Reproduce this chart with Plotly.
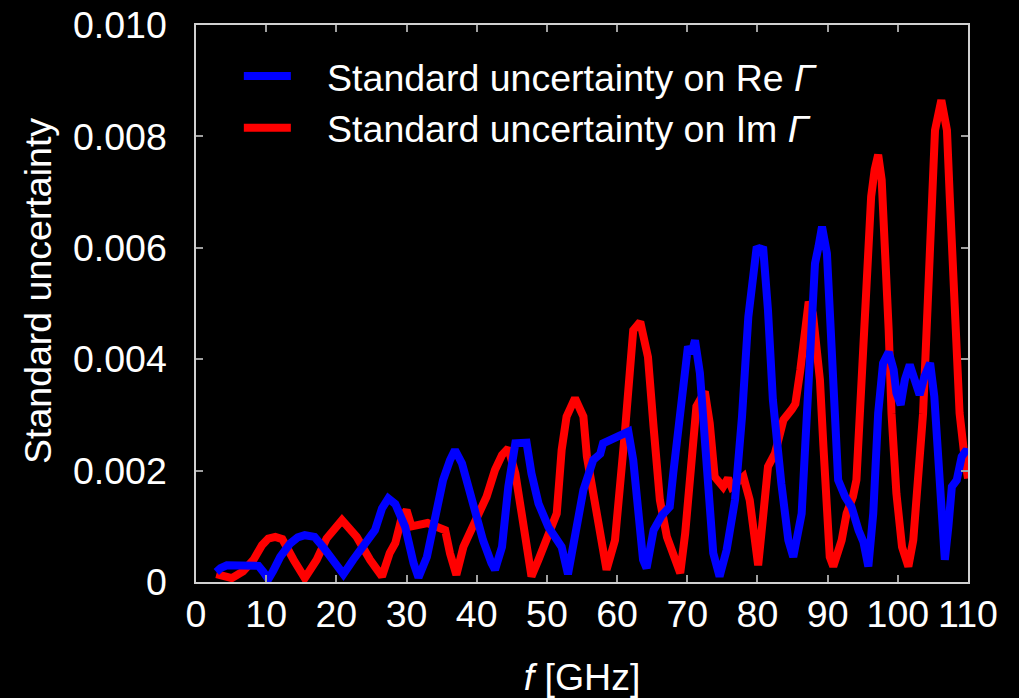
import plotly.graph_objects as go

# Frequency (GHz) and standard uncertainty on Re Γ (blue)
f_re = [2.9, 3.5, 4.4, 5.5, 6.5, 7.5, 8.9, 9.6, 10.3, 11.0, 12.0, 13.4, 14.5, 15.5, 16.9,
        18.1, 19.6, 21.0, 22.4, 23.8, 25.5, 26.5, 27.4, 28.4, 29.8, 31.0, 31.7, 32.9, 34.1,
        35.2, 36.2, 36.9, 37.9, 38.8, 39.8, 40.9, 42.1, 42.6, 43.6, 44.5, 45.5, 46.3, 47.1,
        47.8, 48.8, 50.2, 52.1, 53.0, 54.0, 55.2, 56.6, 57.6, 58.0, 59.0, 60.4, 61.6, 62.3,
        63.3, 63.7, 64.2, 65.2, 66.4, 67.5, 68.0, 69.0, 69.7, 70.1, 70.6, 71.1, 71.8, 72.5,
        73.0, 73.7, 74.6, 75.6, 76.8, 77.8, 78.7, 79.4, 79.9, 80.4, 80.8, 81.5, 82.2, 83.4,
        84.4, 85.1, 85.7, 86.3, 86.8, 87.5, 88.2, 88.7, 89.2, 89.9, 90.3, 90.8, 91.5, 92.5,
        93.4, 94.4, 95.1, 95.8, 96.5, 97.2, 97.9, 98.7, 99.4, 99.8, 100.4, 101.0, 101.7,
        102.4, 103.1, 103.8, 104.6, 105.2, 105.7, 106.2, 106.7, 107.2, 107.7, 108.4, 109.1,
        109.8, 110.0]
u_re = [0.00018, 0.00025, 0.00030, 0.00030, 0.00031, 0.00029, 0.00029, 0.00018, 0.00005,
        0.00020, 0.00045, 0.00069, 0.00080, 0.00084, 0.00081, 0.00063, 0.00040, 0.00014,
        0.00040, 0.00063, 0.00093, 0.00132, 0.00150, 0.00140, 0.00099, 0.00034, 0.00008,
        0.00045, 0.00111, 0.00183, 0.00219, 0.00237, 0.00213, 0.00171, 0.00123, 0.00075,
        0.00034, 0.00022, 0.00063, 0.00171, 0.00249, 0.00251, 0.00250, 0.00195, 0.00141,
        0.00099, 0.00063, 0.00014, 0.00087, 0.00165, 0.00219, 0.00230, 0.00249, 0.00255,
        0.00260, 0.00270, 0.00219, 0.00099, 0.00040, 0.00025, 0.00093, 0.00120, 0.00135,
        0.00195, 0.00297, 0.00375, 0.00423, 0.00410, 0.00434, 0.00375, 0.00267, 0.00147,
        0.00052, 0.00010, 0.00057, 0.00147, 0.00297, 0.00476, 0.00566, 0.00602, 0.00595,
        0.00602, 0.00488, 0.00327, 0.00177, 0.00075, 0.00045, 0.00080, 0.00123, 0.00243,
        0.00423, 0.00572, 0.00602, 0.00638, 0.00590, 0.00482, 0.00333, 0.00183, 0.00153,
        0.00135, 0.00093, 0.00072, 0.00028, 0.00123, 0.00303, 0.00393, 0.00413, 0.00381,
        0.00339, 0.00318, 0.00363, 0.00390, 0.00363, 0.00336, 0.00369, 0.00393, 0.00333,
        0.00243, 0.00123, 0.00040, 0.00099, 0.00171, 0.00183, 0.00225, 0.00237, 0.00230]

# Frequency (GHz) and standard uncertainty on Im Γ (red)
f_im = [2.9, 4.0, 5.1, 6.7, 8.2, 9.4, 10.3, 11.3, 12.3, 13.9, 15.5, 17.2, 18.6, 20.8, 22.9,
        24.8, 26.5, 27.6, 28.4, 29.3, 30.0, 30.7, 32.0, 33.0, 34.1, 35.5, 36.2, 37.1, 38.1,
        39.3, 40.5, 41.4, 42.6, 43.6, 44.5, 45.5, 46.4, 47.1, 47.8, 48.8, 50.2, 51.4, 52.1,
        52.8, 54.0, 55.2, 55.7, 56.9, 57.6, 58.5, 59.7, 60.4, 61.1, 61.8, 62.3, 63.3, 64.4,
        65.2, 66.1, 67.1, 68.2, 69.0, 69.7, 70.6, 71.3, 72.5, 73.2, 73.9, 75.1, 75.8, 76.3,
        77.2, 78.0, 78.9, 79.6, 80.1, 80.8, 81.5, 82.5, 83.7, 84.9, 85.4, 86.1, 86.6, 87.3,
        87.9, 88.4, 88.9, 89.4, 89.9, 90.3, 90.8, 92.0, 92.7, 93.6, 94.1, 94.8, 95.5, 96.2,
        96.7, 97.2, 97.7, 98.2, 98.7, 99.1, 99.8, 100.6, 101.5, 102.2, 102.9, 103.6, 104.3,
        104.8, 105.3, 106.2, 107.0, 107.4, 108.1, 108.8, 109.5, 110.0]
u_im = [0.00014, 0.00010, 0.00007, 0.00019, 0.00040, 0.00066, 0.00078, 0.00081, 0.00077,
        0.00040, 0.00007, 0.00040, 0.00078, 0.00111, 0.00081, 0.00040, 0.00010, 0.00052,
        0.00070, 0.00115, 0.00129, 0.00100, 0.00103, 0.00106, 0.00100, 0.00093, 0.00051,
        0.00013, 0.00063, 0.00099, 0.00135, 0.00153, 0.00201, 0.00228, 0.00240, 0.00195,
        0.00123, 0.00063, 0.00010, 0.00040, 0.00081, 0.00123, 0.00237, 0.00297, 0.00330,
        0.00297, 0.00225, 0.00141, 0.00087, 0.00022, 0.00075, 0.00159, 0.00267, 0.00375,
        0.00452, 0.00467, 0.00404, 0.00278, 0.00147, 0.00081, 0.00040, 0.00016, 0.00087,
        0.00207, 0.00315, 0.00342, 0.00285, 0.00189, 0.00171, 0.00186, 0.00171, 0.00180,
        0.00189, 0.00147, 0.00069, 0.00030, 0.00117, 0.00207, 0.00231, 0.00291, 0.00310,
        0.00320, 0.00380, 0.00434, 0.00503, 0.00482, 0.00423, 0.00363, 0.00243, 0.00123,
        0.00045, 0.00028, 0.00075, 0.00123, 0.00153, 0.00183, 0.00363, 0.00542, 0.00692,
        0.00740, 0.00767, 0.00722, 0.00602, 0.00452, 0.00303, 0.00159, 0.00063, 0.00028,
        0.00075, 0.00183, 0.00303, 0.00512, 0.00662, 0.00811, 0.00865, 0.00811, 0.00692,
        0.00452, 0.00303, 0.00225, 0.00186]

x_ticks = [0, 10, 20, 30, 40, 50, 60, 70, 80, 90, 100, 110]
y_ticks = [0, 0.002, 0.004, 0.006, 0.008, 0.010]
y_tick_text = ["0", "0.002", "0.004", "0.006", "0.008", "0.010"]

FONT = "Liberation Sans, Arial, sans-serif"
FS = 37.5
GAP = "\u00a0\u00a0\u00a0"

fig = go.Figure()
fig.add_trace(go.Scatter(x=f_im, y=u_im, mode="lines", name=GAP + "Standard uncertainty on Im <i>Γ</i>",
                         line=dict(color="#ff0000", width=8)))
fig.add_trace(go.Scatter(x=f_re, y=u_re, mode="lines", name=GAP + "Standard uncertainty on Re <i>Γ</i>",
                         line=dict(color="#0000ff", width=8)))

axis_common = dict(showline=True, linecolor="#d0d0d0", linewidth=1.5, mirror="allticks",
                   ticks="inside", ticklen=7, tickcolor="#a0a0a0", tickwidth=1.5,
                   showgrid=False, zeroline=False, automargin=False,
                   tickfont=dict(family=FONT, size=FS, color="white"))

fig.update_layout(
    template="none",
    width=1019, height=698,
    paper_bgcolor="black", plot_bgcolor="black",
    margin=dict(l=196, r=51, t=25, b=116, pad=0),
    font=dict(family=FONT, color="white", size=FS),
    showlegend=True,
    legend=dict(x=0.0555, y=0.964, xanchor="left", yanchor="top", traceorder="reversed",
                font=dict(family=FONT, size=FS, color="white"), bgcolor="rgba(0,0,0,0)",
                borderwidth=0, itemwidth=47),
    xaxis=dict(range=[0, 110], tickvals=x_ticks, ticklabelstandoff=-2,
               title=dict(text="<i>f</i> [GHz]", font=dict(family=FONT, size=FS, color="white"), standoff=34),
               **axis_common),
    yaxis=dict(range=[0, 0.010], tickvals=y_ticks, ticktext=y_tick_text, ticklabelstandoff=20,
               **axis_common),
    annotations=[dict(text="Standard uncertainty", textangle=-90, xref="paper", yref="paper",
                      x=-0.2047, y=0.5224, xanchor="center", yanchor="middle", showarrow=False,
                      font=dict(family=FONT, size=FS, color="white"))],
)

fig.write_html("out.html", config={"displayModeBar": False},
               post_script="document.body.style.margin='0';document.body.style.background='black';")
